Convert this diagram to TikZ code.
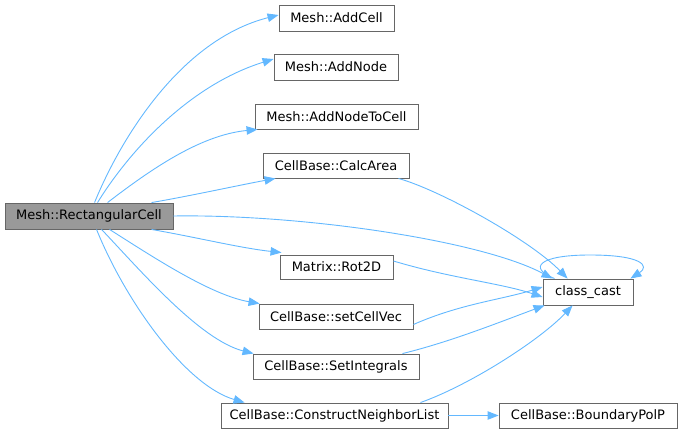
\documentclass[tikz,border=0pt]{standalone}
\usepackage{fontspec}
\setmainfont{DejaVu Sans}
\usetikzlibrary{arrows.meta,calc}
\definecolor{edgeblue}{HTML}{63B8FF}
\definecolor{boxgray}{HTML}{666666}
\definecolor{rootfill}{HTML}{999999}
\begin{document}
\begin{tikzpicture}[x=1pt,y=-1pt,
  fbox/.style={draw=boxgray,line width=0.9pt,fill=white,inner sep=0pt,minimum height=25pt,
    font=\fontsize{13}{15}\selectfont,text=black},
  rootbox/.style={fbox,fill=rootfill,minimum height=26pt},
  edge/.style={draw=edgeblue,line width=0.9pt,-{Triangle[length=11pt,width=8.5pt]}}]
\useasboundingbox (0,0) rectangle (683,433);
% nodes
\node[rootbox,minimum width=168pt] (root) at (89,216) {Mesh::RectangularCell};
\node[fbox,minimum width=115pt,minimum height=26pt] (addcell) at (336.5,18) {Mesh::AddCell};
\node[fbox,minimum width=124pt,minimum height=26pt] (addnode) at (336,67) {Mesh::AddNode};
\node[fbox,minimum width=163pt] (addnodetocell) at (336.5,116.5) {Mesh::AddNodeToCell};
\node[fbox,minimum width=146pt] (calcarea) at (336,165.5) {CellBase::CalcArea};
\node[fbox,minimum width=113pt,minimum height=24pt] (rot2d) at (336.5,267) {Matrix::Rot2D};
\node[fbox,minimum width=154pt] (setcellvec) at (336,316.5) {CellBase::setCellVec};
\node[fbox,minimum width=166pt] (setintegrals) at (336,366.5) {CellBase::SetIntegrals};
\node[fbox,minimum width=227pt] (cnl) at (334.5,415.5) {CellBase::ConstructNeighborList};
\node[fbox,minimum width=90pt,minimum height=26pt] (cc) at (588,292) {class\_cast};
\node[fbox,minimum width=178pt] (bpp) at (588,415.5) {CellBase::BoundaryPolP};
% edges from root
\draw[edge] ([xshift=90pt]root.north west) .. controls (120,140) and (180,40) .. ([yshift=3pt]addcell.west);
\draw[edge] ([xshift=93pt]root.north west) .. controls (130,150) and (190,85) .. ([yshift=8pt]addnode.west);
\draw[edge] ([xshift=103pt]root.north west) .. controls (150,170) and (200,135) .. ([xshift=3pt]addnodetocell.south west);
\draw[edge] ([xshift=147pt]root.north west) .. controls (190,196) and (240,185) .. ([xshift=13pt]calcarea.south west);
\draw[edge] (root.east) .. controls (300,214) and (480,240) .. ([xshift=10pt]cc.north west);
\draw[edge] ([xshift=147pt]root.south west) .. controls (200,238) and (240,248) .. ([xshift=2pt,yshift=2pt]rot2d.north west);
\draw[edge] ([xshift=105pt]root.south west) .. controls (150,255) and (210,295) .. ([xshift=1pt]setcellvec.north west);
\draw[edge] ([xshift=97pt]root.south west) .. controls (140,270) and (200,340) .. ([xshift=1pt]setintegrals.north west);
\draw[edge] ([xshift=92pt]root.south west) .. controls (125,300) and (185,385) .. ([xshift=24pt]cnl.north west);
% edges to class_cast
\draw[edge] ([xshift=-11pt]calcarea.south east) .. controls (440,190) and (530,240) .. ([xshift=25pt]cc.north west);
\draw[edge] ([yshift=6pt]rot2d.east) .. controls (450,278) and (500,283) .. ([yshift=-5pt]cc.west);
\draw[edge] ([yshift=-8pt]setcellvec.east) .. controls (460,304) and (500,300) .. ([yshift=5pt]cc.west);
\draw[edge] ([xshift=-17pt]setintegrals.north east) .. controls (450,342) and (500,322) .. ([xshift=2pt]cc.south west);
\draw[edge] ([xshift=-28pt]cnl.north east) .. controls (470,385) and (540,340) .. ([xshift=30pt]cc.south west);
% self loop
\draw[edge] ([xshift=12pt]cc.north west) .. controls (528,268) and (538,255) .. (590,255) .. controls (642,255) and (650,266) .. ([xshift=-3pt]cc.north east);
% to BoundaryPolP
\draw[edge] (cnl.east) -- (bpp.west);
\end{tikzpicture}
\end{document}
